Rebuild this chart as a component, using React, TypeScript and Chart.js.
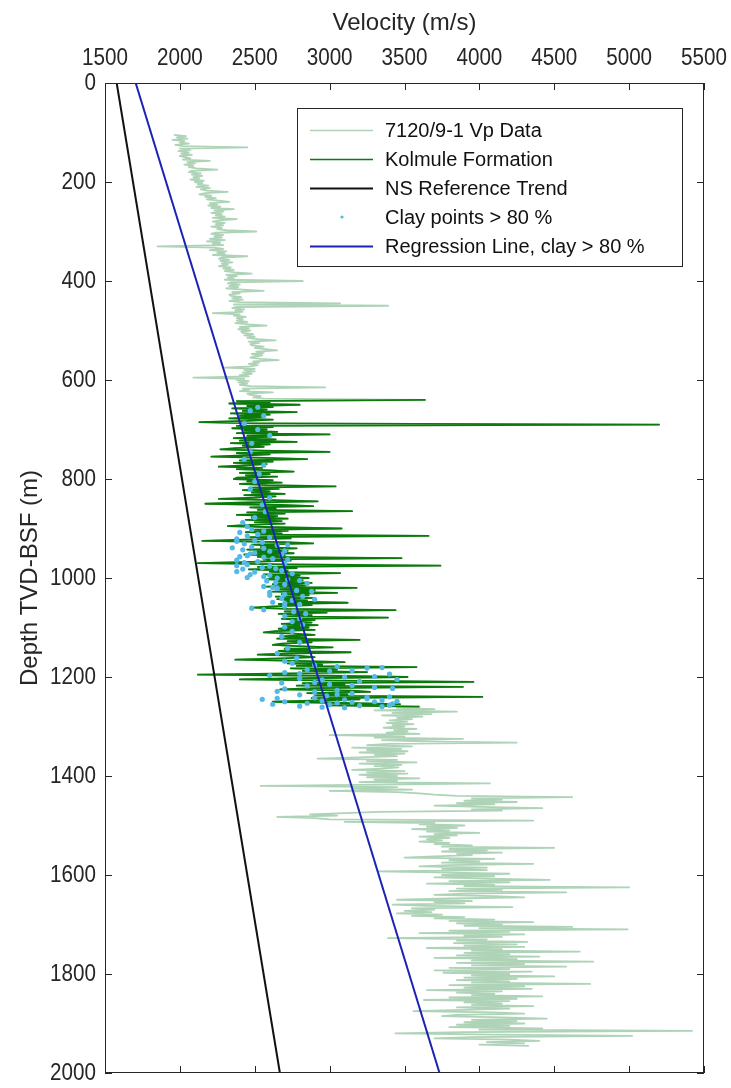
import React, { useEffect, useRef } from "react";
import { Chart, registerables } from "chart.js";

Chart.register(...registerables);

// ---- Series names -------------------------------------------------------
const seriesNames = [
  "7120/9-1 Vp Data",
  "Kolmule Formation",
  "NS Reference Trend",
  "Clay points > 80 %",
  "Regression Line, clay > 80 %",
];

// ---- Vp log, sampled every 2.5 m (m/s) --------------------------------
const logStep = 2.5;

// 105 – 637.5 m
const upperStart = 105;
const vpUpper = [
  1960, 2040, 1980, 2050, 1950, 2030, 2000, 2060, 1970, 2020,
  2450, 2000, 2070, 1990, 2060, 2010, 2080, 2000, 2040, 2070,
  2020, 2200, 2050, 2100, 2030, 2090, 2060, 2110, 2250, 2080,
  2060, 2140, 2080, 2150, 2090, 2130, 2070, 2160, 2100, 2150,
  2120, 2190, 2110, 2200, 2140, 2180, 2320, 2170, 2130, 2210,
  2170, 2240, 2180, 2260, 2330, 2200, 2250, 2190, 2270, 2210,
  2360, 2230, 2290, 2210, 2280, 2240, 2300, 2220, 2380, 2260,
  2220, 2300, 2240, 2290, 2210, 2280, 2250, 2310, 2510, 2240,
  2210, 2290, 2230, 2280, 2200, 2300, 2180, 2270, 2220, 2290,
  1850, 2230, 2290, 2200, 2310, 2250, 2300, 2220, 2450, 2280,
  2260, 2330, 2270, 2350, 2280, 2320, 2260, 2340, 2290, 2360,
  2300, 2370, 2480, 2310, 2380, 2320, 2360, 2300, 2820, 2340,
  2320, 2400, 2330, 2390, 2310, 2420, 2560, 2350, 2400, 2330,
  2340, 2410, 2350, 2420, 2330, 2400, 3070, 2360, 3390, 2380,
  2350, 2430, 2370, 2420, 2220, 2400, 2360, 2440, 2380, 2420,
  2380, 2450, 2370, 2460, 2580, 2400, 2460, 2390, 2470, 2410,
  2420, 2490, 2430, 2500, 2450, 2520, 2640, 2460, 2530, 2470,
  2480, 2560, 2500, 2570, 2650, 2510, 2560, 2480, 2550, 2500,
  2470, 2540, 2660, 2490, 2530, 2460, 2520, 2470, 2300, 2500,
  2430, 2500, 2420, 2480, 2400, 2460, 2090, 2430, 2380, 2460,
  2390, 2450, 2400, 2470, 2970, 2420, 2460, 2400, 2620, 2450,
  2470, 2540, 2490, 2560,
];

// 640 – 1260 m (Kolmule Formation)
const kolmuleStart = 640;
const vpKolmule = [
  3640, 2380, 2600, 2330, 2800, 2450, 2620, 2350, 2580, 2420,
  2780, 2340, 2600, 2400, 2560, 2330, 2620, 2450, 2130, 2500,
  5200, 2380, 2620, 2350, 2580, 2430, 2650, 2380, 3000, 2450,
  2590, 2360, 2640, 2400, 2780, 2340, 2600, 2420, 2560, 2370,
  2270, 2550, 3000, 2380, 2600, 2420, 2210, 2570, 2850, 2400,
  2620, 2360, 2580, 2430, 2260, 2550, 2380, 2610, 2760, 2400,
  2600, 2440, 2650, 2380, 2360, 2620, 2450, 2680, 2400, 2580,
  3040, 2470, 2660, 2420, 2600, 2480, 2700, 2430, 2640, 2500,
  2260, 2620, 2920, 2450, 2170, 2680, 2890, 2470, 2640, 2520,
  3150, 2450, 2700, 2380, 2650, 2480, 2720, 2440, 2680, 2500,
  2700, 2460, 2320, 2640, 3080, 2500, 2720, 2440, 2680, 2520,
  3660, 2470, 2740, 2430, 2150, 2700, 2890, 2480, 2660, 2540,
  2780, 2450, 2720, 2500, 2760, 2430, 2700, 2520, 3480, 2560,
  2740, 2480, 2120, 2700, 3740, 2520, 2780, 2460, 2720, 2600,
  3070, 2560, 2800, 2600, 2860, 2580, 2820, 2640, 2880, 2620,
  2840, 2580, 3180, 2660, 2900, 2620, 3050, 2680, 2860, 2640,
  2900, 2650, 2850, 2700, 3120, 2660, 2880, 2620, 2480, 2720,
  3440, 2700, 2980, 2660, 2880, 2720, 3390, 2680, 2900, 2740,
  2880, 2680, 2920, 2700, 2860, 2660, 2900, 2640, 2560, 2760,
  2900, 2700, 2840, 2650, 3200, 2720, 2880, 2680, 2620, 2780,
  3020, 2700, 2860, 2660, 3140, 2720, 2520, 2800, 2900, 2680,
  2370, 2780, 3100, 2720, 2950, 2780, 3580, 2740, 3050, 2820,
  3250, 2760, 2120, 2980, 3520, 2800, 2400, 3050, 3960, 2820,
  3100, 2780, 3890, 2900, 2670, 3150, 3270, 2850, 3120, 2900,
  4020, 2880, 3200, 2950, 2620, 3100, 3470, 3000, 3600,
];

// 1262.5 – 1945 m
const lowerStart = 1262.5;
const vpLower = [
  3450, 3700, 3300, 3850, 3420, 3680, 3350, 3620, 3450, 3550,
  3400, 3520, 3380, 3560, 3420, 3500, 3360, 3580, 3430, 3520,
  3380, 3600, 3000, 3500, 3300, 3890, 3350, 3600, 4250, 3400,
  3250, 3550, 3150, 3480, 3250, 3520, 3200, 3500, 3300, 3450,
  3200, 2920, 3450, 3250, 3580, 3200, 3480, 3300, 3460, 3350,
  3150, 3500, 3250, 3520, 3200, 3450, 3250, 3600, 3300, 3450,
  3200, 4070, 3350, 2540, 3450, 3150, 3550, 3000, 3450, 3600,
  3700, 3850, 4620, 3950, 4150, 3900, 4250, 3850, 4100, 3700,
  4000, 4420, 3950, 4150, 3330, 3100, 2870, 3050, 2650, 2900,
  3000, 4360, 3100, 3700, 3600, 3900, 3650, 3850, 3550, 3800,
  3650, 4000, 3700, 3850, 3600, 3800, 3650, 3750, 3600, 3800,
  3700, 3950, 3750, 4500, 3800, 4050, 3750, 4150, 3850, 3950,
  3700, 3500, 4100, 3800, 4000, 3750, 4360, 3800, 3600, 4050,
  3750, 4050, 3320, 3800, 4200, 3750, 4100, 3700, 4050, 4470,
  3800, 4200, 3650, 4100, 3900, 5000, 3850, 4150, 3800, 4580,
  3900, 3700, 4100, 4300, 3800, 3450, 3950, 3700, 3900, 3420,
  3650, 4220, 3550, 3700, 3500, 3680, 3450, 3750, 3550, 3900,
  3700, 4100, 3800, 4360, 3850, 4150, 3900, 4620, 4000, 4990,
  3800, 4200, 3600, 4300, 3900, 4150, 3390, 4050, 3850, 4320,
  3830, 4250, 3900, 4300, 3650, 4150, 3950, 4670, 3900, 4200,
  3850, 4400, 3700, 4250, 3950, 4760, 3850, 4300, 3950, 4580,
  3800, 4200, 3700, 4350, 3760, 4200, 3950, 4500, 3900, 4250,
  3850, 4200, 3950, 4740, 3800, 4300, 3900, 4350, 3650, 4150,
  3850, 4100, 3950, 4420, 3800, 4250, 3630, 4200, 3900, 4150,
  3950, 4360, 3850, 4200, 3900, 3560, 4100, 4300, 3850, 3750,
  4150, 4450, 3950, 4250, 3900, 4300, 3850, 4200, 3800, 4420,
  4000, 5420, 3900, 3440, 4100, 5020, 3950, 3700, 4200, 4400,
  4050, 4300, 4000, 4330,
];

// ---- Clay-rich samples (clay > 80 %) ----------------------------------
const clayDepth = [
  655, 662, 672, 688, 700, 712, 728, 745, 760, 772,
  790, 805, 820, 838, 852, 866, 878, 888, 896, 902,
  905, 908, 912, 915, 918, 921, 924, 928, 931, 934,
  937, 940, 943, 946, 949, 952, 955, 958, 961, 964,
  967, 970, 973, 976, 979, 982, 985, 988, 991, 994,
  997, 1000, 1003, 1006, 1009, 1013, 1017, 1021, 1025, 1029,
  1033, 1037, 1041, 1045, 1049, 1053, 1057, 1061, 1064, 1068,
  1072, 1077, 1082, 1088, 1094, 1099, 1108, 1118, 1130, 1142,
  1152, 1162, 1168, 1172, 1176, 1179, 1182, 1185, 1188, 1191,
  1194, 1197, 1200, 1203, 1206, 1209, 1212, 1215, 1218, 1221,
  1224, 1227, 1230, 1233, 1236, 1238, 1241, 1243, 1246, 1248,
  1250, 1252, 1254, 1256, 1258, 1260, 1262, 1245, 1250, 1255,
  926, 933, 939, 945, 951, 957, 963, 969, 975, 981,
  987, 993, 999, 1005, 1011, 1019, 1027, 1035, 1043, 1051,
  1181, 1187, 1193, 1199, 1205, 1211, 1217, 1223, 1229, 1235,
  1240, 1244, 1249, 1253, 1257, 1261, 1251, 1247, 1259, 1242,
];
const clayVelocity = [
  2520, 2470, 2560, 2430, 2520, 2600, 2480, 2470, 2430, 2560,
  2530, 2500, 2470, 2600, 2550, 2570, 2500, 2420, 2450, 2480,
  2560, 2400, 2520, 2450, 2600, 2380, 2500, 2550, 2430, 2650,
  2480, 2560, 2420, 2600, 2500, 2680, 2450, 2560, 2620, 2380,
  2520, 2700, 2450, 2600, 2550, 2420, 2680, 2500, 2750, 2600,
  2560, 2650, 2720, 2580, 2640, 2700, 2560, 2650, 2780, 2600,
  2700, 2820, 2680, 2750, 2620, 2800, 2700, 2480, 2560, 2760,
  2840, 2700, 2800, 2750, 2820, 2700, 2750, 2680, 2800, 2720,
  2650, 2780, 2700, 2750, 2900, 3050, 3250, 2850, 3000, 2700,
  3400, 2600, 3100, 2800, 2950, 3200, 2680, 3000, 2850, 3300,
  2700, 3050, 2900, 3150, 2800, 2980, 3250, 2650, 3100, 2950,
  3300, 3050, 3420, 3000, 3200, 3350, 3100, 2550, 2700, 2620,
  2380, 2720, 2350, 2700, 2470, 2400, 2720, 2430, 2380, 2640,
  2380, 2470, 2450, 2800, 2850, 2620, 2880, 2600, 2900, 2700,
  3350, 3150, 2800, 3300, 3450, 2900, 3150, 3420, 2650, 3050,
  3400, 3250, 3450, 2850, 3400, 2950, 3150, 3350, 2800, 2900,
];

// ---- Trend lines (depth m, velocity m/s) ------------------------------
const trendDepth = [0, 2000];
const nsTrendVelocity = [1578, 2668];
const regressionVelocity = [1705, 3734];

// ---- Axes -------------------------------------------------------------
const velocityTicks = [1500, 2000, 2500, 3000, 3500, 4000, 4500, 5000, 5500];
const depthTicks = [0, 200, 400, 600, 800, 1000, 1200, 1400, 1600, 1800, 2000];
const velocityTitle = "Velocity (m/s)";
const depthTitle = "Depth TVD-BSF (m)";

const COLORS = {
  vp: "#aed3b7",
  kolmule: "#0a7a0a",
  ns: "#111111",
  clay: "#55b9e6",
  regression: "#1b22b4",
  axis: "#262626",
};

const segment = (values: number[], start: number) =>
  values.map((v, i) => ({ x: v, y: start + i * logStep }));

const pairs = (xs: number[], ys: number[]) => xs.map((x, i) => ({ x, y: ys[i] }));

const TEXT_FONT = '"Liberation Sans", Arial, Helvetica, sans-serif';

function drawCondensed(
  ctx: CanvasRenderingContext2D,
  text: string,
  x: number,
  y: number,
  align: CanvasTextAlign
) {
  ctx.save();
  ctx.translate(x, y);
  ctx.scale(0.86, 1);
  ctx.textAlign = align;
  ctx.textBaseline = "middle";
  ctx.fillText(text, 0, 0);
  ctx.restore();
}

// Box-style axes with inward ticks, axis labels and a boxed legend.
const boxAxesPlugin = {
  id: "boxAxes",
  afterDatasetsDraw(chart: any) {
    const { ctx, chartArea: a, scales } = chart;
    const xs = scales.x;
    const ys = scales.y;
    const tickLen = 7;
    ctx.save();

    // frame
    ctx.strokeStyle = COLORS.axis;
    ctx.lineWidth = 1;
    ctx.strokeRect(a.left + 0.5, a.top + 0.5, a.right - a.left - 1, a.bottom - a.top - 1);

    // ticks
    ctx.beginPath();
    velocityTicks.forEach((v) => {
      const px = Math.round(xs.getPixelForValue(v)) + 0.5;
      ctx.moveTo(px, a.top);
      ctx.lineTo(px, a.top + tickLen);
      ctx.moveTo(px, a.bottom);
      ctx.lineTo(px, a.bottom - tickLen);
    });
    depthTicks.forEach((d) => {
      const py = Math.round(ys.getPixelForValue(d)) + 0.5;
      ctx.moveTo(a.left, py);
      ctx.lineTo(a.left + tickLen, py);
      ctx.moveTo(a.right, py);
      ctx.lineTo(a.right - tickLen, py);
    });
    ctx.stroke();

    // tick labels
    ctx.fillStyle = COLORS.axis;
    ctx.font = `24px ${TEXT_FONT}`;
    velocityTicks.forEach((v) => {
      drawCondensed(ctx, String(v), xs.getPixelForValue(v), 58, "center");
    });
    depthTicks.forEach((d) => {
      drawCondensed(ctx, String(d), a.left - 9, ys.getPixelForValue(d), "right");
    });

    // axis titles
    ctx.font = `24px ${TEXT_FONT}`;
    ctx.textAlign = "center";
    ctx.textBaseline = "middle";
    ctx.fillText(velocityTitle, (a.left + a.right) / 2, 23);
    ctx.save();
    ctx.translate(30, (a.top + a.bottom) / 2);
    ctx.rotate(-Math.PI / 2);
    ctx.fillText(depthTitle, 0, 0);
    ctx.restore();

    // legend
    const box = { x: 297, y: 108, w: 385, h: 158 };
    ctx.fillStyle = "#ffffff";
    ctx.fillRect(box.x, box.y, box.w, box.h);
    ctx.strokeStyle = COLORS.axis;
    ctx.lineWidth = 1;
    ctx.strokeRect(box.x + 0.5, box.y + 0.5, box.w, box.h);

    ctx.font = `20px ${TEXT_FONT}`;
    ctx.textAlign = "left";
    ctx.textBaseline = "middle";
    seriesNames.forEach((name, i) => {
      const ds = chart.data.datasets.find((d: any) => d.label === name);
      const rowY = 130 + i * 29;
      if (ds.showLine) {
        ctx.strokeStyle = ds.borderColor;
        ctx.lineWidth = ds.borderWidth >= 2 ? 2 : 1.4;
        ctx.beginPath();
        ctx.moveTo(310, rowY + 0.5);
        ctx.lineTo(373, rowY + 0.5);
        ctx.stroke();
      } else {
        ctx.fillStyle = ds.backgroundColor;
        ctx.beginPath();
        ctx.arc(342, rowY, 1.6, 0, Math.PI * 2);
        ctx.fill();
      }
      ctx.fillStyle = "#111111";
      ctx.fillText(name, 385, rowY + 1);
    });

    ctx.restore();
  },
};

export default function App() {
  const canvasRef = useRef<HTMLCanvasElement | null>(null);

  useEffect(() => {
    const canvas = canvasRef.current;
    if (!canvas) return;

    const vpAll = [
      ...segment(vpUpper, upperStart),
      ...segment(vpKolmule, kolmuleStart),
      ...segment(vpLower, lowerStart),
    ];

    const lineStyle = {
      showLine: true,
      pointRadius: 0,
      fill: false,
      borderJoinStyle: "round" as const,
      tension: 0,
    };

    // first dataset is drawn top-most
    const datasets: any[] = [
      {
        ...lineStyle,
        label: seriesNames[4],
        data: pairs(regressionVelocity, trendDepth),
        borderColor: COLORS.regression,
        borderWidth: 2,
      },
      {
        ...lineStyle,
        label: seriesNames[2],
        data: pairs(nsTrendVelocity, trendDepth),
        borderColor: COLORS.ns,
        borderWidth: 2,
      },
      {
        label: seriesNames[3],
        data: pairs(clayVelocity, clayDepth),
        showLine: false,
        pointRadius: 2.6,
        pointBorderWidth: 0,
        backgroundColor: COLORS.clay,
        borderColor: COLORS.clay,
      },
      {
        ...lineStyle,
        label: seriesNames[1],
        data: segment(vpKolmule, kolmuleStart),
        borderColor: COLORS.kolmule,
        borderWidth: 1.8,
      },
      {
        ...lineStyle,
        label: seriesNames[0],
        data: vpAll,
        borderColor: COLORS.vp,
        borderWidth: 1.8,
      },
    ];

    const chart = new Chart(canvas, {
      type: "scatter",
      data: { datasets },
      options: {
        animation: false,
        responsive: true,
        maintainAspectRatio: false,
        devicePixelRatio: 1,
        events: [],
        layout: { padding: { left: 105, top: 83, right: 27, bottom: 15 } },
        scales: {
          x: { type: "linear", min: 1500, max: 5500, display: false },
          y: { type: "linear", min: 0, max: 2000, reverse: true, display: false },
        },
        plugins: {
          legend: { display: false },
          tooltip: { enabled: false },
        },
      },
      plugins: [boxAxesPlugin],
    });

    return () => chart.destroy();
  }, []);

  return (
    <div
      style={{
        position: "fixed",
        left: 0,
        top: 0,
        width: 731,
        height: 1088,
        background: "#ffffff",
      }}
    >
      <canvas ref={canvasRef} />
    </div>
  );
}
